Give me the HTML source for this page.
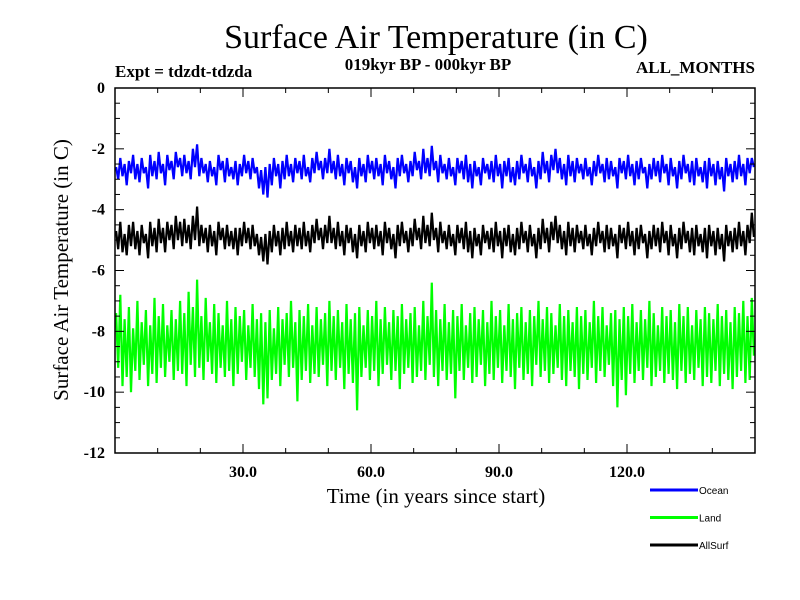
<!DOCTYPE html>
<html><head><meta charset="utf-8"><style>
body{margin:0;background:#fff;}
svg{display:block;font-family:"Liberation Serif",serif;}
</style></head><body>
<svg id="chart" width="800" height="600" viewBox="0 0 800 600">
<rect width="800" height="600" fill="#fff"/>
<text x="436" y="48" font-size="34" text-anchor="middle">Surface Air Temperature (in C)</text>
<text x="115" y="77" font-size="17" font-weight="bold">Expt = tdzdt-tdzda</text>
<text x="428" y="70" font-size="17" font-weight="bold" text-anchor="middle">019kyr BP - 000kyr BP</text>
<text x="755" y="73" font-size="17" font-weight="bold" text-anchor="end">ALL_MONTHS</text>
<text transform="translate(68,270) rotate(-90)" font-size="21" text-anchor="middle">Surface Air Temperature (in C)</text>
<text x="436" y="503" font-size="21" text-anchor="middle">Time (in years since start)</text>
<g id="series"></g>
<g id="axes"></g>
<g id="legend"></g>
</svg>
<script>
const xTicks=[30,60,90,120];
const xTickLabels=["30.0","60.0","90.0","120.0"];
const yTicks=[0,-2,-4,-6,-8,-10,-12];
const yTickLabels=["0","-2","-4","-6","-8","-10","-12"];
const seriesNames=["Ocean","Land","AllSurf"];
const ocean=[
-2.6,-3.0,-2.3,-2.9,-2.5,-3.2,-2.4,-2.8,-2.2,-3.0,-2.5,-3.1,-2.3,-2.8,-2.6,-3.3,-2.2,-2.9,-2.4,-3.0,
-2.1,-2.8,-2.5,-3.2,-2.2,-2.7,-2.4,-3.0,-2.1,-2.6,-2.3,-2.9,-2.2,-2.8,-2.4,-3.0,-2.0,-2.6,-1.85,-2.9,
-2.3,-2.8,-2.5,-3.1,-2.4,-2.9,-2.6,-3.2,-2.2,-2.7,-2.4,-3.1,-2.3,-2.9,-2.6,-3.0,-2.4,-3.2,-2.5,-2.9,
-2.2,-2.8,-2.4,-3.0,-2.3,-2.8,-2.6,-3.3,-2.7,-3.5,-2.6,-3.6,-2.5,-3.2,-2.3,-2.9,-2.5,-3.3,-2.4,-3.0,
-2.2,-2.9,-2.5,-3.1,-2.3,-2.8,-2.4,-3.0,-2.2,-2.9,-2.6,-3.1,-2.3,-2.8,-2.1,-2.7,-2.4,-3.0,-2.3,-2.8,
-2.0,-2.8,-2.4,-3.0,-2.2,-2.9,-2.5,-3.2,-2.3,-2.8,-2.4,-3.1,-2.6,-3.3,-2.3,-2.9,-2.5,-3.1,-2.2,-2.8,
-2.4,-3.0,-2.3,-2.9,-2.5,-3.2,-2.2,-2.8,-2.4,-3.0,-2.6,-3.3,-2.3,-2.9,-2.2,-2.8,-2.5,-3.1,-2.4,-2.9,
-2.1,-2.7,-2.4,-3.0,-2.0,-2.8,-2.3,-2.9,-1.9,-2.7,-2.4,-3.1,-2.2,-2.8,-2.5,-3.0,-2.3,-2.9,-2.6,-3.2,
-2.3,-2.8,-2.4,-3.0,-2.2,-3.1,-2.5,-3.3,-2.4,-2.9,-2.6,-3.2,-2.3,-2.8,-2.5,-3.0,-2.4,-3.1,-2.2,-2.9,
-2.5,-3.3,-2.4,-2.9,-2.3,-3.1,-2.6,-3.2,-2.4,-3.0,-2.2,-2.8,-2.5,-3.1,-2.3,-2.9,-2.6,-3.3,-2.4,-3.0,
-2.1,-2.8,-2.4,-3.1,-2.2,-2.7,-2.0,-2.8,-2.3,-3.0,-2.5,-3.2,-2.2,-2.9,-2.4,-3.1,-2.3,-2.8,-2.5,-3.0,
-2.3,-2.9,-2.6,-3.2,-2.4,-2.9,-2.2,-2.8,-2.5,-3.1,-2.3,-3.0,-2.4,-2.9,-2.6,-3.3,-2.3,-2.8,-2.4,-3.0,
-2.2,-2.9,-2.5,-3.2,-2.4,-3.0,-2.3,-2.8,-2.6,-3.3,-2.5,-3.0,-2.3,-2.9,-2.4,-3.1,-2.2,-2.8,-2.5,-3.2,
-2.3,-2.9,-2.6,-3.3,-2.4,-3.0,-2.2,-2.8,-2.5,-3.1,-2.4,-3.2,-2.3,-2.9,-2.6,-3.1,-2.4,-3.3,-2.3,-2.9,
-2.5,-3.2,-2.4,-3.0,-2.6,-3.4,-2.3,-2.9,-2.5,-3.1,-2.4,-3.0,-2.2,-2.9,-2.5,-3.2,-2.3,-2.8,-2.3,-2.6];
const land=[
-7.4,-9.2,-6.8,-9.8,-7.6,-9.5,-7.2,-10.0,-7.9,-9.3,-7.0,-9.6,-7.7,-9.1,-7.3,-9.8,-7.8,-9.4,-6.9,-9.7,
-7.5,-9.2,-7.1,-9.5,-7.8,-9.0,-7.3,-9.6,-7.6,-9.3,-7.0,-9.4,-7.4,-9.8,-6.7,-9.1,-7.2,-9.5,-6.3,-9.2,
-7.5,-9.6,-6.9,-9.0,-7.7,-9.4,-7.1,-9.7,-7.4,-9.2,-7.8,-9.5,-7.0,-9.3,-7.6,-9.8,-7.2,-9.4,-7.5,-9.0,
-7.3,-9.6,-7.8,-9.2,-7.1,-9.5,-7.6,-9.9,-7.4,-10.4,-7.7,-10.2,-7.3,-9.6,-7.9,-9.4,-7.2,-9.8,-7.6,-9.1,
-7.4,-9.5,-7.0,-9.2,-7.7,-10.3,-7.3,-9.6,-7.5,-9.3,-7.1,-9.7,-7.8,-9.4,-7.2,-9.5,-7.6,-9.1,-7.4,-9.8,
-7.0,-9.3,-7.5,-9.6,-7.3,-9.2,-7.7,-9.9,-7.1,-9.4,-7.6,-9.7,-7.4,-10.6,-7.2,-9.5,-7.8,-9.2,-7.3,-9.6,
-7.5,-9.3,-7.0,-9.8,-7.6,-9.4,-7.2,-9.1,-7.7,-9.6,-7.3,-9.3,-7.5,-9.9,-7.1,-9.4,-7.6,-9.2,-7.4,-9.7,
-7.2,-9.5,-7.8,-9.3,-7.0,-9.6,-7.5,-9.1,-6.4,-9.5,-7.3,-9.8,-7.6,-9.3,-7.1,-9.6,-7.7,-9.4,-7.3,-10.2,
-7.5,-9.3,-7.1,-9.6,-7.8,-9.2,-7.4,-9.7,-7.2,-9.5,-7.6,-9.1,-7.3,-9.8,-7.7,-9.4,-7.0,-9.6,-7.5,-9.2,
-7.3,-9.7,-7.8,-9.3,-7.1,-9.5,-7.6,-9.9,-7.4,-9.2,-7.2,-9.6,-7.7,-9.4,-7.3,-9.8,-7.5,-9.1,-7.0,-9.5,
-7.6,-9.3,-7.2,-9.7,-7.4,-9.4,-7.8,-9.2,-7.1,-9.6,-7.5,-9.8,-7.3,-9.3,-7.7,-9.5,-7.2,-9.9,-7.5,-9.4,
-7.3,-9.6,-7.7,-9.2,-7.0,-9.7,-7.5,-9.3,-7.2,-9.5,-7.8,-9.1,-7.4,-9.8,-7.3,-10.5,-7.6,-9.6,-7.2,-10.1,
-7.5,-9.4,-7.1,-9.7,-7.7,-9.3,-7.3,-9.6,-7.6,-9.2,-7.0,-9.8,-7.4,-9.5,-7.8,-9.3,-7.2,-9.7,-7.5,-9.4,
-7.3,-9.6,-7.7,-9.9,-7.1,-9.3,-7.5,-9.7,-7.2,-9.4,-7.8,-9.6,-7.3,-9.2,-7.6,-9.8,-7.2,-9.5,-7.4,-9.7,
-7.6,-9.3,-7.1,-9.8,-7.5,-9.4,-7.3,-9.6,-7.7,-9.9,-7.2,-9.5,-7.4,-9.3,-7.0,-9.7,-7.5,-9.6,-6.9,-8.8];
const allsurf=[
-4.7,-5.3,-4.4,-5.4,-4.8,-5.5,-4.5,-5.2,-4.4,-5.3,-4.7,-5.5,-4.5,-5.1,-4.8,-5.6,-4.4,-5.2,-4.6,-5.4,
-4.3,-5.1,-4.6,-5.4,-4.4,-5.0,-4.5,-5.3,-4.2,-5.0,-4.4,-5.2,-4.3,-5.1,-4.5,-5.3,-4.2,-5.0,-3.9,-5.2,
-4.5,-5.1,-4.6,-5.4,-4.5,-5.2,-4.7,-5.5,-4.4,-5.0,-4.6,-5.3,-4.5,-5.2,-4.7,-5.3,-4.6,-5.5,-4.6,-5.2,
-4.4,-5.1,-4.6,-5.3,-4.5,-5.2,-4.8,-5.5,-4.9,-5.7,-4.8,-5.8,-4.7,-5.4,-4.5,-5.2,-4.7,-5.5,-4.6,-5.3,
-4.4,-5.2,-4.7,-5.4,-4.5,-5.2,-4.6,-5.3,-4.4,-5.2,-4.7,-5.4,-4.5,-5.1,-4.3,-5.0,-4.6,-5.3,-4.5,-5.1,
-4.2,-5.1,-4.6,-5.3,-4.4,-5.2,-4.7,-5.5,-4.5,-5.1,-4.6,-5.4,-4.8,-5.6,-4.5,-5.2,-4.7,-5.4,-4.4,-5.1,
-4.6,-5.3,-4.5,-5.2,-4.7,-5.5,-4.4,-5.1,-4.6,-5.3,-4.8,-5.6,-4.5,-5.2,-4.4,-5.1,-4.7,-5.4,-4.6,-5.2,
-4.3,-5.0,-4.6,-5.3,-4.2,-5.1,-4.5,-5.2,-4.1,-5.0,-4.6,-5.4,-4.4,-5.1,-4.7,-5.3,-4.5,-5.2,-4.8,-5.5,
-4.5,-5.1,-4.6,-5.3,-4.4,-5.4,-4.7,-5.6,-4.6,-5.2,-4.8,-5.5,-4.5,-5.1,-4.7,-5.3,-4.6,-5.4,-4.4,-5.2,
-4.7,-5.6,-4.6,-5.2,-4.5,-5.4,-4.8,-5.5,-4.6,-5.3,-4.4,-5.1,-4.7,-5.4,-4.5,-5.2,-4.8,-5.6,-4.6,-5.3,
-4.3,-5.1,-4.6,-5.4,-4.4,-5.0,-4.2,-5.1,-4.5,-5.3,-4.7,-5.5,-4.4,-5.2,-4.6,-5.4,-4.5,-5.1,-4.7,-5.3,
-4.5,-5.2,-4.8,-5.5,-4.6,-5.2,-4.4,-5.1,-4.7,-5.4,-4.5,-5.3,-4.6,-5.2,-4.8,-5.6,-4.5,-5.1,-4.6,-5.3,
-4.4,-5.2,-4.7,-5.5,-4.6,-5.3,-4.5,-5.1,-4.8,-5.6,-4.7,-5.3,-4.5,-5.2,-4.6,-5.4,-4.4,-5.1,-4.7,-5.5,
-4.5,-5.2,-4.8,-5.6,-4.6,-5.3,-4.4,-5.1,-4.7,-5.4,-4.6,-5.5,-4.5,-5.2,-4.8,-5.4,-4.6,-5.6,-4.5,-5.2,
-4.7,-5.5,-4.6,-5.3,-4.8,-5.7,-4.5,-5.2,-4.7,-5.4,-4.6,-5.3,-4.4,-5.2,-4.7,-5.5,-4.5,-5.1,-4.1,-4.9];
const colors=["#0000ff","#00ff00","#000000"];
const NS="http://www.w3.org/2000/svg";
const X0=115,X1=755,Y0=88,Y1=453,xMin=0,xMax=150,yMin=-12,yMax=0;
function xs(v){return X0+(v-xMin)/(xMax-xMin)*(X1-X0);}
function ys(v){return Y1-(v-yMin)/(yMax-yMin)*(Y1-Y0);}
function mk(tag,attrs,parent){const e=document.createElementNS(NS,tag);for(const k in attrs)e.setAttribute(k,attrs[k]);parent.appendChild(e);return e;}
const sg=document.getElementById('series');
[ocean,land,allsurf].forEach((arr,si)=>{
  const n=arr.length;
  const pts=arr.map((v,i)=>xs(xMin+(i+0.5)*(xMax-xMin)/n).toFixed(1)+","+ys(v).toFixed(1)).join(" ");
  const p=mk('polyline',{points:pts,fill:'none',stroke:colors[si],'stroke-width':2.2,'stroke-linejoin':'miter'},sg);
  
  
});
const ag=document.getElementById('axes');
const frame=mk('rect',{x:X0,y:Y0,width:X1-X0,height:Y1-Y0,fill:'none',stroke:'#000','stroke-width':1.5},ag);


for(let v=10;v<xMax;v+=10){
  const big=xTicks.includes(v);const L=big?9:5;
  const t1=mk('line',{x1:xs(v),x2:xs(v),y1:Y1,y2:Y1-L,stroke:'#000','stroke-width':1},ag);
  
  
  const t2=mk('line',{x1:xs(v),x2:xs(v),y1:Y0,y2:Y0+L,stroke:'#000','stroke-width':1},ag);
  
  
}
xTicks.forEach((v,i)=>{
  const t=mk('text',{x:xs(v),y:Y1+24,'font-size':16,'font-weight':'bold','text-anchor':'middle'},ag);t.textContent=xTickLabels[i];
  
  
});
for(let v=yMin+0.5;v<yMax;v+=0.5){
  const big=(v%2===0);const L=big?9:5;
  const t1=mk('line',{x1:X0,x2:X0+L,y1:ys(v),y2:ys(v),stroke:'#000','stroke-width':1},ag);
  
  
  const t2=mk('line',{x1:X1,x2:X1-L,y1:ys(v),y2:ys(v),stroke:'#000','stroke-width':1},ag);
  
  
}
yTicks.forEach((v,i)=>{
  const t=mk('text',{x:X0-10,y:ys(v)+5,'font-size':16,'font-weight':'bold','text-anchor':'end'},ag);t.textContent=yTickLabels[i];
  
  
});
const lg=document.getElementById('legend');
seriesNames.forEach((nm,i)=>{
  const y=490+i*27.5;
  const l=mk('line',{x1:650,x2:698,y1:y,y2:y,stroke:colors[i],'stroke-width':3},lg);
  
  
  const t=mk('text',{x:699,y:y+4,'font-size':10,'font-family':'Liberation Sans, sans-serif'},lg);t.textContent=nm;
  
  
});
</script>
</body></html>
